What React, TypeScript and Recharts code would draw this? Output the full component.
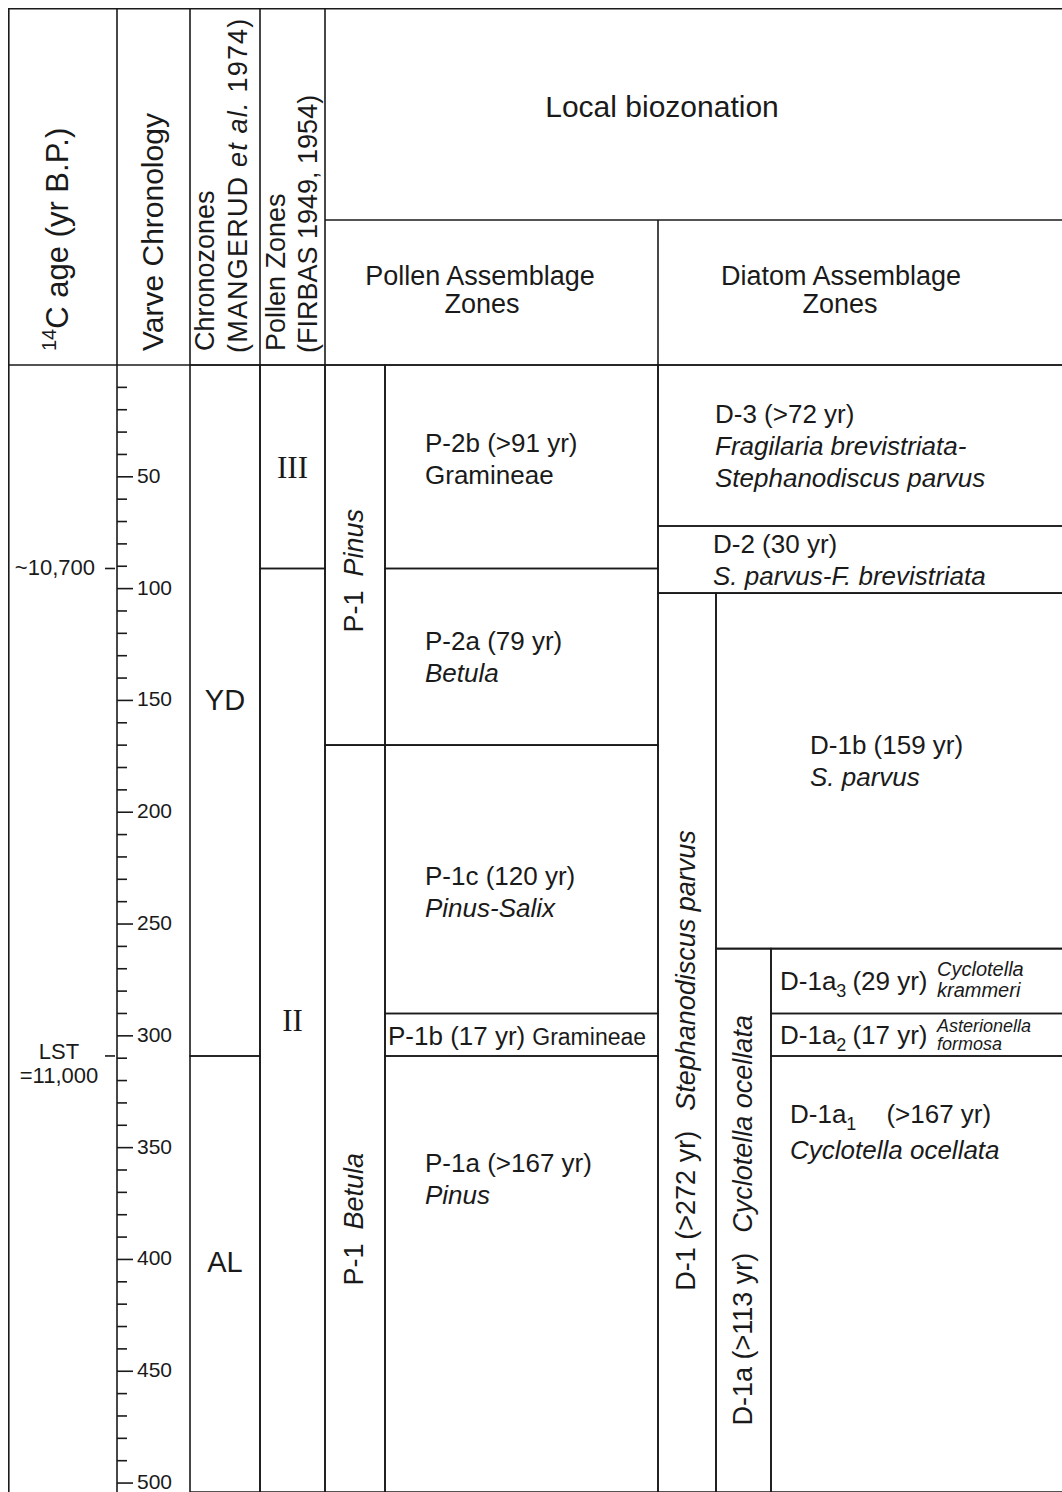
import React from 'react';
import { ComposedChart, XAxis, YAxis, ReferenceArea, Customized } from 'recharts';

const FONT = '"Liberation Sans", Arial, Helvetica, sans-serif';
const SERIF = '"Liberation Serif", "Times New Roman", serif';
const INK = '#1a1a1a';

// varve years counted down from the top of the section
const varveTicks = [
  10, 20, 30, 40, 50, 60, 70, 80, 90, 100, 110, 120, 130, 140, 150, 160, 170, 180, 190, 200,
  210, 220, 230, 240, 250, 260, 270, 280, 290, 300, 310, 320, 330, 340, 350, 360, 370, 380, 390, 400,
  410, 420, 430, 440, 450, 460, 470, 480, 490, 500,
];

// 14C ages tied to the varve scale
const c14Marks = [
  { year: 91, lines: ['~10,700'] },
  { year: 309, lines: ['LST', '=11,000'] },
];

const chronozones = [
  { name: 'YD', from: 0, to: 309 },
  { name: 'AL', from: 309, to: 504 },
];

const firbasZones = [
  { name: 'III', from: 0, to: 91 },
  { name: 'II', from: 91, to: 504 },
];

const pollenMain = [
  { code: 'P-1', taxon: 'Pinus', from: 0, to: 170 },
  { code: 'P-1', taxon: 'Betula', from: 170, to: 504 },
];

const pollenSub = [
  { code: 'P-2b', span: '>91 yr', taxon: 'Gramineae', from: 0, to: 91 },
  { code: 'P-2a', span: '79 yr', taxon: 'Betula', from: 91, to: 170 },
  { code: 'P-1c', span: '120 yr', taxon: 'Pinus-Salix', from: 170, to: 290 },
  { code: 'P-1b', span: '17 yr', taxon: 'Gramineae', from: 290, to: 309 },
  { code: 'P-1a', span: '>167 yr', taxon: 'Pinus', from: 309, to: 504 },
];

const diatomMain = [{ code: 'D-1', span: '>272 yr', taxon: 'Stephanodiscus parvus', from: 102, to: 504 }];
const diatomMid = [{ code: 'D-1a', span: '>113 yr', taxon: 'Cyclotella ocellata', from: 261, to: 504 }];

const diatomSub = [
  { code: 'D-3', sub: '', span: '>72 yr', taxon: ['Fragilaria brevistriata-', 'Stephanodiscus parvus'], from: 0, to: 72 },
  { code: 'D-2', sub: '', span: '30 yr', taxon: ['S. parvus-F. brevistriata'], from: 72, to: 102 },
  { code: 'D-1b', sub: '', span: '159 yr', taxon: ['S. parvus'], from: 102, to: 261 },
  { code: 'D-1a', sub: '3', span: '29 yr', taxon: ['Cyclotella', 'krammeri'], from: 261, to: 290 },
  { code: 'D-1a', sub: '2', span: '17 yr', taxon: ['Asterionella', 'formosa'], from: 290, to: 309 },
  { code: 'D-1a', sub: '1', span: '>167 yr', taxon: ['Cyclotella ocellata'], from: 309, to: 504 },
];

// ---- layout (page pixels) ----
const W = 1054;
const H = 1484;
const X0 = 117; // varve axis line
const px = (pageX: number) => pageX - X0;
const COL = {
  chrono: [190, 260],
  firbas: [260, 325],
  pollenMain: [325, 385],
  pollenSub: [385, 658],
  diatomMain: [658, 716],
  diatomMid: [716, 771],
  right: 1062,
  open: 1066, // the table runs off the right edge of the page
};

// label placement: dx from box left, optional year to centre the label on
const LABEL_LAYOUT: Record<string, any> = {
  YD: { at: 150 },
  AL: { at: 401 },
  II: { at: 293 },
  'P-1Pinus': { at: 92 },
  'P-1Betula': { at: 382 },
  'P-2b': { dx: 40, at: 42 },
  'P-2a': { dx: 40 },
  'P-1c': { dx: 40, at: 235.5 },
  'P-1b': { dx: 3, inline: true },
  'P-1a': { dx: 40, at: 364 },
  'D-1': { at: 311 },
  'D-3': { dx: 57 },
  'D-2': { dx: 55 },
  'D-1b': { dx: 94, at: 177 },
  'D-1a3': { dx: 9, side: 166, gap: 6, sideSize: 20, sideLines: [-5, 16] },
  'D-1a2': { dx: 9, side: 166, gap: 6, sideSize: 18, sideLines: [-3, 15] },
  'D-1a1': { dx: 19, at: 343, gap: 30, lh: 36 },
};

// one row per zone top, so the chart has something to hang its scales on
const rows = [...chronozones, ...firbasZones, ...pollenSub, ...diatomSub].map((z) => ({
  year: z.from,
  col: 0,
}));

const boxStyle = {
  fill: 'none',
  fillOpacity: 0,
  stroke: INK,
  strokeWidth: 1.6,
  ifOverflow: 'visible' as const,
};
const mid = (z: any) => (z.from + z.to) / 2;
const yAt = (vb: any, z: any, year: number) => vb.y + ((year - z.from) / (z.to - z.from)) * vb.height;

const VarveTick = (props: any) => {
  const { x, y, payload } = props;
  const v = payload.value as number;
  const mark = c14Marks.find((m) => m.year === v);
  if (mark) {
    return (
      <g fontFamily={FONT} fill={INK}>
        <line x1={x - 12} x2={x - 2} y1={y} y2={y} stroke={INK} strokeWidth={1.6} />
        {mark.lines.length === 1 ? (
          <text x={x - 22} y={y + 7} textAnchor="end" fontSize={22}>{mark.lines[0]}</text>
        ) : (
          <>
            <text x={x - 58} y={y + 3} textAnchor="middle" fontSize={22}>{mark.lines[0]}</text>
            <text x={x - 58} y={y + 27} textAnchor="middle" fontSize={22}>{mark.lines[1]}</text>
          </>
        )}
      </g>
    );
  }
  const major = v % 50 === 0;
  return (
    <g>
      <line x1={x} x2={x + (major ? 16 : 10)} y1={y} y2={y} stroke={INK} strokeWidth={1.6} />
      {major && (
        <text x={x + 20} y={y + 6} fontSize={21} fontFamily={FONT} fill={INK}>{v}</text>
      )}
    </g>
  );
};

const CenterLabel = ({ viewBox, zone, serif }: any) => {
  const lay = LABEL_LAYOUT[zone.name] || {};
  const cy = yAt(viewBox, zone, lay.at ?? mid(zone));
  return (
    <text
      x={viewBox.x + viewBox.width / 2}
      y={cy + (serif ? 11 : 10)}
      textAnchor="middle"
      fontSize={serif ? 31 : 29}
      fontFamily={serif ? SERIF : FONT}
      fill={INK}
    >
      {zone.name}
    </text>
  );
};

const VerticalLabel = ({ viewBox, zone, id }: any) => {
  const lay = LABEL_LAYOUT[id] || {};
  const cy = yAt(viewBox, zone, lay.at ?? mid(zone));
  const cx = viewBox.x + viewBox.width / 2 + 8;
  return (
    <text
      transform={`translate(${cx},${cy}) rotate(-90)`}
      textAnchor="middle"
      fontSize={27}
      fontFamily={FONT}
      fill={INK}
    >
      {zone.span ? `${zone.code} (${zone.span})` : zone.code}
      <tspan dx={zone.span ? 20 : 14} fontStyle="italic">{zone.taxon}</tspan>
    </text>
  );
};

const PollenSubLabel = ({ viewBox, zone }: any) => {
  const lay = LABEL_LAYOUT[zone.code];
  const cy = yAt(viewBox, zone, lay.at ?? mid(zone));
  const x = viewBox.x + lay.dx;
  const italic = zone.taxon !== 'Gramineae';
  if (lay.inline) {
    return (
      <text x={x} y={cy + 10} fontSize={26} fontFamily={FONT} fill={INK}>
        {`${zone.code} (${zone.span})`}
        <tspan dx={7} fontSize={23} fontStyle={italic ? 'italic' : 'normal'}>{zone.taxon}</tspan>
      </text>
    );
  }
  return (
    <g fontSize={26} fontFamily={FONT} fill={INK}>
      <text x={x} y={cy - 7}>{`${zone.code} (${zone.span})`}</text>
      <text x={x} y={cy + 25} fontStyle={italic ? 'italic' : 'normal'}>{zone.taxon}</text>
    </g>
  );
};

const DiatomSubLabel = ({ viewBox, zone }: any) => {
  const lay = LABEL_LAYOUT[zone.code + zone.sub];
  const cy = yAt(viewBox, zone, lay.at ?? mid(zone));
  const x = viewBox.x + lay.dx;
  const head = zone.sub ? (
    <>
      {zone.code}
      <tspan fontSize={18} dy={7}>{zone.sub}</tspan>
      <tspan dx={lay.gap} dy={-7}>{`(${zone.span})`}</tspan>
    </>
  ) : (
    `${zone.code} (${zone.span})`
  );
  if (lay.side) {
    return (
      <g fontFamily={FONT} fill={INK}>
        <text x={x} y={cy + 9} fontSize={26}>{head}</text>
        {zone.taxon.map((t: string, i: number) => (
          <text key={t} x={viewBox.x + lay.side} y={cy + lay.sideLines[i]} fontSize={lay.sideSize} fontStyle="italic">
            {t}
          </text>
        ))}
      </g>
    );
  }
  const lh = lay.lh ?? 32;
  const n = 1 + zone.taxon.length;
  const top = cy - ((n - 1) * lh) / 2 + 9;
  return (
    <g fontFamily={FONT} fill={INK} fontSize={26}>
      <text x={x} y={top}>{head}</text>
      {zone.taxon.map((t: string, i: number) => (
        <text key={t} x={x} y={top + (i + 1) * lh} fontStyle="italic">{t}</text>
      ))}
    </g>
  );
};

const diatomLeft = (z: any) =>
  z.from >= diatomMid[0].from ? COL.diatomMid[1] : z.from >= diatomMain[0].from ? COL.diatomMain[1] : COL.diatomMain[0];

const Header = () => (
  <g transform="translate(-8,-8)" fontFamily={FONT} fill={INK}>
    <g stroke={INK} strokeWidth={1.6} fill="none">
      <line x1={8} y1={8.8} x2={1062} y2={8.8} />
      <line x1={8} y1={365} x2={1062} y2={365} />
      <line x1={325} y1={220} x2={1062} y2={220} />
      <line x1={8.8} y1={8} x2={8.8} y2={1492} />
      {[117, 190, 260, 325].map((x) => (
        <line key={x} x1={x} y1={8} x2={x} y2={365} />
      ))}
      <line x1={658} y1={220} x2={658} y2={365} />
    </g>

    <text x={662} y={117} textAnchor="middle" fontSize={30}>Local biozonation</text>
    <text x={480} y={285} textAnchor="middle" fontSize={27}>Pollen Assemblage</text>
    <text x={482} y={313} textAnchor="middle" fontSize={27}>Zones</text>
    <text x={841} y={285} textAnchor="middle" fontSize={27}>Diatom Assemblage</text>
    <text x={840} y={313} textAnchor="middle" fontSize={27}>Zones</text>

    <text transform="translate(68,351) rotate(-90)" fontSize={31}>
      <tspan fontSize={20} dy={-12}>14</tspan>
      <tspan dy={12}>C age (yr B.P.)</tspan>
    </text>
    <text transform="translate(163,351) rotate(-90)" fontSize={30}>Varve Chronology</text>
    <text transform="translate(214,351) rotate(-90)" fontSize={27}>Chronozones</text>
    <text transform="translate(247,353) rotate(-90)" fontSize={27} letterSpacing={1.2}>
      (MANGERUD <tspan fontStyle="italic">et al.</tspan> 1974)
    </text>
    <text transform="translate(285,351) rotate(-90)" fontSize={27}>Pollen Zones</text>
    <text transform="translate(317,353) rotate(-90)" fontSize={27}>(FIRBAS 1949, 1954)</text>
  </g>
);

export default function App() {
  return (
    <div style={{ position: 'absolute', left: 8, top: 8, width: W, height: H, background: '#fff' }}>
      <ComposedChart width={W} height={H} data={rows} margin={{ top: 357, right: 0, bottom: 0, left: 0 }}>
        <XAxis
          type="number"
          dataKey="col"
          domain={[0, px(COL.right)]}
          allowDataOverflow
          height={0}
          tick={false}
          tickLine={false}
          axisLine={false}
        />
        <YAxis
          type="number"
          dataKey="year"
          domain={[0, 504]}
          reversed
          allowDataOverflow
          ticks={[...varveTicks, ...c14Marks.map((m) => m.year)]}
          interval={0}
          width={109}
          tickSize={0}
          tickMargin={0}
          tickLine={false}
          axisLine={{ stroke: INK, strokeWidth: 1.6 }}
          tick={<VarveTick />}
        />

        {chronozones.map((z) => (
          <ReferenceArea
            key={z.name}
            x1={px(COL.chrono[0])}
            x2={px(COL.chrono[1])}
            y1={z.from}
            y2={z.to}
            {...boxStyle}
            label={<CenterLabel zone={z} />}
          />
        ))}
        {firbasZones.map((z) => (
          <ReferenceArea
            key={z.name}
            x1={px(COL.firbas[0])}
            x2={px(COL.firbas[1])}
            y1={z.from}
            y2={z.to}
            {...boxStyle}
            label={<CenterLabel zone={z} serif />}
          />
        ))}
        {pollenMain.map((z) => (
          <ReferenceArea
            key={z.taxon}
            x1={px(COL.pollenMain[0])}
            x2={px(COL.pollenMain[1])}
            y1={z.from}
            y2={z.to}
            {...boxStyle}
            label={<VerticalLabel zone={z} id={z.code + z.taxon} />}
          />
        ))}
        {pollenSub.map((z) => (
          <ReferenceArea
            key={z.code}
            x1={px(COL.pollenSub[0])}
            x2={px(COL.pollenSub[1])}
            y1={z.from}
            y2={z.to}
            {...boxStyle}
            label={<PollenSubLabel zone={z} />}
          />
        ))}
        {diatomMain.map((z) => (
          <ReferenceArea
            key={z.code}
            x1={px(COL.diatomMain[0])}
            x2={px(COL.diatomMain[1])}
            y1={z.from}
            y2={z.to}
            {...boxStyle}
            label={<VerticalLabel zone={z} id={z.code} />}
          />
        ))}
        {diatomMid.map((z) => (
          <ReferenceArea
            key={z.code}
            x1={px(COL.diatomMid[0])}
            x2={px(COL.diatomMid[1])}
            y1={z.from}
            y2={z.to}
            {...boxStyle}
            label={<VerticalLabel zone={z} id={z.code} />}
          />
        ))}
        {diatomSub.map((z) => (
          <ReferenceArea
            key={z.code + z.sub}
            x1={px(diatomLeft(z))}
            x2={px(COL.open)}
            y1={z.from}
            y2={z.to}
            {...boxStyle}
            label={<DiatomSubLabel zone={z} />}
          />
        ))}

        <Customized component={Header} />
      </ComposedChart>
    </div>
  );
}
